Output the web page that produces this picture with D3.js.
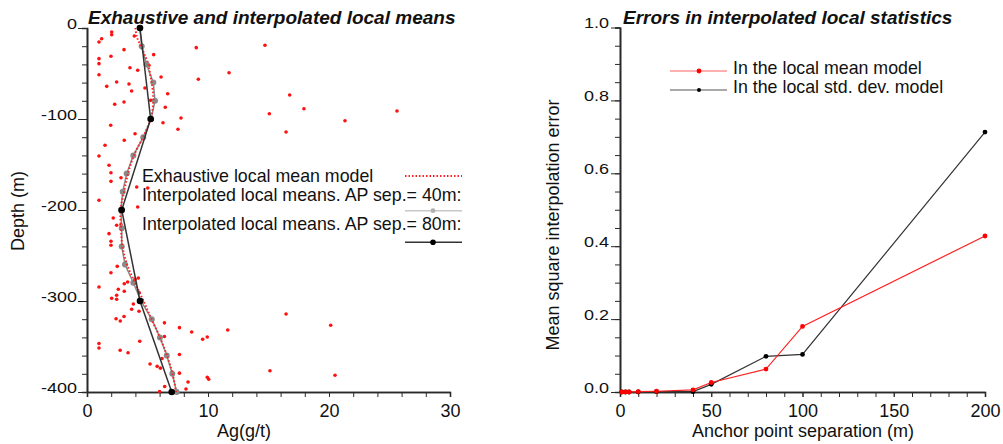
<!DOCTYPE html>
<html>
<head>
<meta charset="utf-8">
<script src="https://cdn.jsdelivr.net/npm/d3@7"></script>
<style>
  html, body { margin: 0; padding: 0; background: #fff; }
  svg { display: block; font-family: "Liberation Sans", Arial, Helvetica, sans-serif; }
</style>
</head>
<body>
<svg id="chart" width="1003" height="444"></svg>
<script>
// raw samples: [Ag (g/t), depth (m)]
var samples = [
  [1.21,-11.8],[0.99,-15.4],[2.04,-4.4],[2.04,-7.4],[0.99,-33.7],[0.99,-39.2],[0.99,-51.3],[1.98,-31.1],
  [3.06,-23.8],[1.63,-64.1],[2.45,-59.3],[3.55,-43.6],[4.19,-46.5],[3.47,-61.5],[3.69,-69.2],[2.29,-83.8],
  [3.06,-81.3],[3.91,-8.8],[5.51,-29.3],[5.12,-41.0],[6.12,-53.8],[4.79,-65.9],[6.67,-72.2],[5.26,-79.5],
  [6.47,-87.1],[7.77,-98.9],[6.28,-104.1],[7.52,-111.3],[9.03,-21.6],[9.2,-56.4],[11.74,-49.1],[14.71,-19.0],
  [16.75,-73.6],[17.93,-88.7],[15.07,-94.2],[16.45,-114.3],[21.32,-101.9],[25.62,-91.2],
  [1.96,-106.9],[1.49,-128.9],[3.08,-123.4],[3.97,-116.2],[0.99,-140.7],[1.82,-150.9],[1.98,-159.0],
  [1.98,-168.5],[2.81,-164.5],[4.11,-174.7],[5.02,-175.8],[0.99,-189.3],[4.19,-196.7],
  [2.17,-208.8],[2.45,-216.8],[2.81,-216.2],[1.82,-226.0],[1.98,-234.4],[1.98,-238.8],[2.5,-261.9],
  [1.98,-268.9],[0.99,-284.6],[3.08,-281.0],[3.36,-279.1],[2.59,-287.1],[3.08,-289.3],[4.24,-274.7],
  [3.97,-276.2],[4.32,-290.9],[2.04,-297.0],[2.45,-293.7],[2.45,-298.1],[3.69,-309.1],[4.3,-311.3],
  [3.83,-303.3],[3.06,-317.0],[2.4,-319.5],[2.75,-322.0],[6.4,-324.0],[7.64,-329.3],[8.65,-334.1],
  [6.4,-339.0],[11.63,-331.9],[9.56,-342.1],[9.94,-339.6],[4.36,-344.2],[0.99,-346.7],[0.99,-351.6],
  [2.74,-354.1],[3.39,-356.9],[7.64,-358.8],[6.2,-363.2],[5.21,-369.2],[5.8,-371.8],[6.07,-373.8],
  [7.64,-379.3],[6.42,-394.0],[8.35,-389.0],[9.94,-383.8],[10.06,-386.0],[6.0,-399.5],[8.18,-396.7],
  [16.45,-314.3],[20.14,-326.7],[15.12,-376.6],[20.5,-381.6]
];

// exhaustive local mean model
var modelDepth = [0,-10,-20,-30,-40,-50,-60,-80,-100,-120,-140,-160,-180,-200,-220,-240,-260,-280,-300,-320,-340,-360,-380,-400];
var modelAg    = [4.0,4.13,4.46,4.79,5.08,5.2,5.35,5.48,5.25,4.63,3.88,3.39,3.06,2.77,2.81,2.93,3.31,3.97,4.67,5.33,6.03,6.61,7.07,7.36];

// interpolated local means, AP sep 40m
var ap40Depth = [0,-20,-40,-60,-80,-100,-120,-140,-160,-180,-200,-220,-240,-260,-280,-300,-320,-340,-360,-380,-400];
var ap40Ag    = [4.35,4.52,4.93,5.48,5.62,5.3,4.65,3.83,3.28,2.95,2.8,2.87,2.87,3.14,3.83,4.46,5.35,6.03,6.59,7.05,7.41];

// interpolated local means, AP sep 80m
var ap80Depth = [0,-100,-200,-300,-400];
var ap80Ag    = [4.38,5.26,2.87,4.38,7.0];

// errors vs anchor point separation
var apSep   = [1,3,5,10,20,40,50,80,100,200];
var meanErr = [0,0,0,0.001,0.002,0.006,0.026,0.063,0.18,0.428];
var stdErr  = [0,0,0,0,0.001,0.001,0.021,0.098,0.103,0.713];

var svg = d3.select("#chart");
var AXIS = "#2a2a2a";

function styleAxis(g){
  g.select(".domain").attr("stroke", AXIS).attr("stroke-width", 1.6);
  g.selectAll(".tick line").attr("stroke", AXIS).attr("stroke-width", 1);
  g.selectAll("text").attr("fill", "#111").attr("font-size", 18);
}

// ---------- left panel ----------
var x1 = d3.scaleLinear().domain([0,30]).range([87,450]);
var y1 = d3.scaleLinear().domain([-400,0]).range([392,28]);

var left = svg.append("g");

left.append("g").attr("transform","translate(0,392)")
  .call(d3.axisBottom(x1).tickValues(d3.range(0,31,2)).tickSize(5).tickFormat(""))
  .call(styleAxis);
left.append("g").attr("transform","translate(0,392)")
  .call(d3.axisBottom(x1).tickValues([0,10,20,30]).tickSize(5).tickSizeOuter(0))
  .call(styleAxis)
  .call(function(g){ g.selectAll("text").attr("y",25).attr("dy",0); });

left.append("g").attr("transform","translate(87,0)")
  .call(d3.axisLeft(y1).tickValues(d3.range(-400,1,20)).tickSize(5).tickFormat(""))
  .call(styleAxis);
left.append("g").attr("transform","translate(87,0)")
  .call(d3.axisLeft(y1).tickValues([-400,-300,-200,-100,0]).tickSize(9).tickSizeOuter(0))
  .call(styleAxis)
  .call(function(g){
    g.selectAll("text").attr("x",-10).attr("dy",0).attr("y",0)
      .attr("transform","scale(1,0.78)").text(function(d){ return d === 0 ? "0" : d3.format("d")(d).replace("−","-"); });
  });

left.append("g").selectAll("circle").data(samples).enter().append("circle")
  .attr("cx", function(d){ return x1(d[0]); })
  .attr("cy", function(d){ return y1(d[1]); })
  .attr("r", 1.8).attr("fill", "#ff1010");

var line40 = d3.line().x(function(d,i){ return x1(ap40Ag[i]); }).y(function(d){ return y1(d); });
left.append("path").attr("d", line40(ap40Depth))
  .attr("fill","none").attr("stroke","#8a8a8a").attr("stroke-width",1.5);
left.append("g").selectAll("circle").data(ap40Depth).enter().append("circle")
  .attr("cx", function(d,i){ return x1(ap40Ag[i]); }).attr("cy", function(d){ return y1(d); })
  .attr("r", 3).attr("fill","#8a8a8a");

var lineModel = d3.line().curve(d3.curveCatmullRom)
  .x(function(d,i){ return x1(modelAg[i]); }).y(function(d){ return y1(d); });
left.append("path").attr("d", lineModel(modelDepth))
  .attr("fill","none").attr("stroke","#ff2020").attr("stroke-width",2).attr("stroke-dasharray","1.5,2");

var line80 = d3.line().x(function(d,i){ return x1(ap80Ag[i]); }).y(function(d){ return y1(d); });
left.append("path").attr("d", line80(ap80Depth))
  .attr("fill","none").attr("stroke","#333").attr("stroke-width",1.5);
left.append("g").selectAll("circle").data(ap80Depth).enter().append("circle")
  .attr("cx", function(d,i){ return x1(ap80Ag[i]); }).attr("cy", function(d){ return y1(d); })
  .attr("r", 3.3).attr("fill","#000");

left.append("text").attr("x",88).attr("y",24)
  .attr("font-size",19).attr("font-weight","bold").attr("font-style","italic").attr("fill","#111")
  .text("Exhaustive and interpolated local means");
left.append("text").attr("x",244).attr("y",437).attr("text-anchor","middle")
  .attr("font-size",18).attr("fill","#111").text("Ag(g/t)");
left.append("text").attr("transform","translate(24,211) rotate(-90)").attr("text-anchor","middle")
  .attr("font-size",18).attr("fill","#111").text("Depth (m)");

// legend (left)
var lg = left.append("g").attr("font-size",17.8).attr("fill","#111");
lg.append("text").attr("x",142).attr("y",181.5).text("Exhaustive local mean model");
lg.append("text").attr("x",142).attr("y",200.5).text("Interpolated local means. AP sep.= 40m:");
lg.append("text").attr("x",142).attr("y",230).text("Interpolated local means. AP sep.= 80m:");
lg.append("line").attr("x1",405).attr("x2",462).attr("y1",176).attr("y2",176)
  .attr("stroke","#ff2020").attr("stroke-width",2).attr("stroke-dasharray","1.5,2");
lg.append("line").attr("x1",405).attr("x2",462).attr("y1",210.7).attr("y2",210.7)
  .attr("stroke","#c8c8c8").attr("stroke-width",1.5);
lg.append("circle").attr("cx",433).attr("cy",210.7).attr("r",2.4).attr("fill","#b0b0b0");
lg.append("line").attr("x1",405).attr("x2",462).attr("y1",242.3).attr("y2",242.3)
  .attr("stroke","#333").attr("stroke-width",1.5);
lg.append("circle").attr("cx",433).attr("cy",242.3).attr("r",2.8).attr("fill","#000");

// ---------- right panel ----------
var x2 = d3.scaleLinear().domain([0,200]).range([620,985]);
var y2 = d3.scaleLinear().domain([0,1]).range([392,27.5]);

var right = svg.append("g");

right.append("g").attr("transform","translate(0,392)")
  .call(d3.axisBottom(x2).tickValues(d3.range(0,201,10)).tickSize(5).tickFormat(""))
  .call(styleAxis);
right.append("g").attr("transform","translate(0,392)")
  .call(d3.axisBottom(x2).tickValues([0,50,100,150,200]).tickSize(5).tickSizeOuter(0))
  .call(styleAxis)
  .call(function(g){ g.selectAll("text").attr("y",25).attr("dy",0); });

right.append("g").attr("transform","translate(620,0)")
  .call(d3.axisLeft(y2).tickValues(d3.range(0,1.001,0.05)).tickSize(5).tickFormat(""))
  .call(styleAxis);
right.append("g").attr("transform","translate(620,0)")
  .call(d3.axisLeft(y2).tickValues([0,0.2,0.4,0.6,0.8,1.0]).tickSize(9).tickSizeOuter(0).tickFormat(d3.format(".1f")))
  .call(styleAxis)
  .call(function(g){
    g.selectAll("text").attr("x",-11).attr("dy",0).attr("y",0).attr("transform","scale(1,0.78)");
  });

var errLine = function(vals){
  return d3.line().x(function(d,i){ return x2(apSep[i]); }).y(function(d){ return y2(d); })(vals);
};
right.append("path").attr("d", errLine(stdErr))
  .attr("fill","none").attr("stroke","#333").attr("stroke-width",1.2);
right.append("g").selectAll("circle").data(stdErr).enter().append("circle")
  .attr("cx", function(d,i){ return x2(apSep[i]); }).attr("cy", function(d){ return y2(d); })
  .attr("r", 2.4).attr("fill","#000");
right.append("path").attr("d", errLine(meanErr))
  .attr("fill","none").attr("stroke","#ff2020").attr("stroke-width",1.2);
right.append("g").selectAll("circle").data(meanErr).enter().append("circle")
  .attr("cx", function(d,i){ return x2(apSep[i]); }).attr("cy", function(d){ return y2(d); })
  .attr("r", 2.4).attr("fill","#ff0000");

right.append("text").attr("x",623).attr("y",24)
  .attr("font-size",19).attr("font-weight","bold").attr("font-style","italic").attr("fill","#111")
  .text("Errors in interpolated local statistics");
right.append("text").attr("x",803).attr("y",437).attr("text-anchor","middle")
  .attr("font-size",18).attr("fill","#111").text("Anchor point separation (m)");
right.append("text").attr("transform","translate(559,225) rotate(-90)").attr("text-anchor","middle")
  .attr("font-size",18).attr("fill","#111").text("Mean square interpolation error");

// legend (right)
var rg = right.append("g").attr("font-size",17.8).attr("fill","#111");
rg.append("line").attr("x1",670).attr("x2",727).attr("y1",71).attr("y2",71)
  .attr("stroke","#ff6060").attr("stroke-width",1.2);
rg.append("circle").attr("cx",699).attr("cy",71).attr("r",2.4).attr("fill","#ff0000");
rg.append("line").attr("x1",670).attr("x2",727).attr("y1",90).attr("y2",90)
  .attr("stroke","#555").attr("stroke-width",1.2);
rg.append("circle").attr("cx",699).attr("cy",90).attr("r",2).attr("fill","#000");
rg.append("text").attr("x",733).attr("y",74).text("In the local mean model");
rg.append("text").attr("x",733).attr("y",93).text("In the local std. dev. model");
</script>
</body>
</html>
